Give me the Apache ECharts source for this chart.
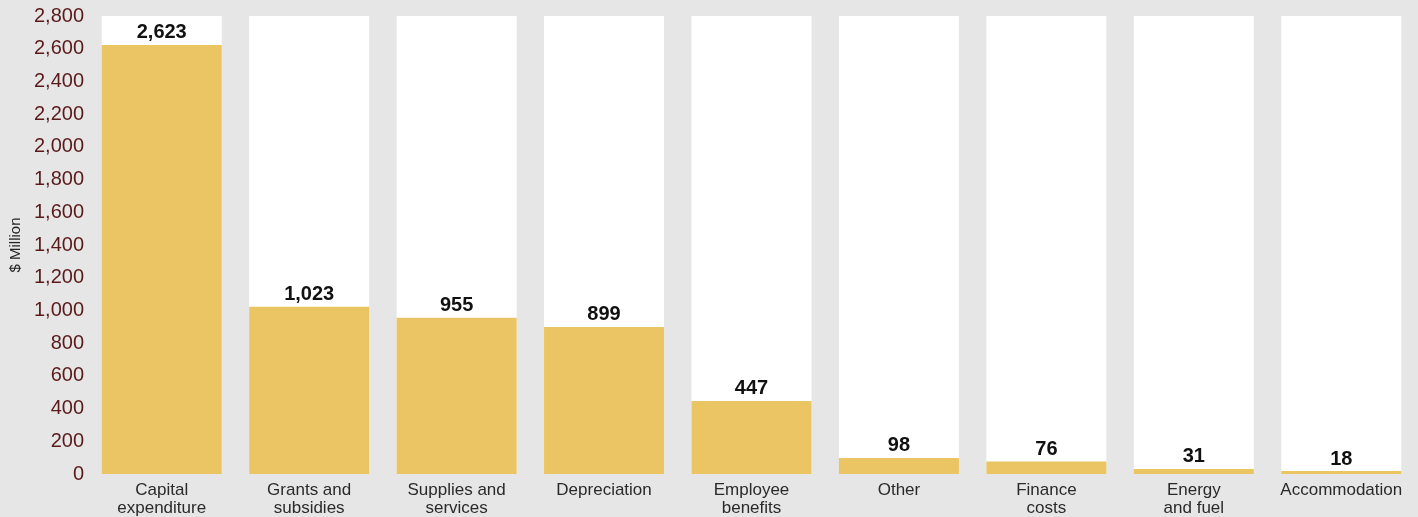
<!DOCTYPE html>
<html>
<head>
<meta charset="utf-8">
<script src="https://cdn.jsdelivr.net/npm/echarts@6/dist/echarts.min.js"></script>
<style>
html,body{margin:0;padding:0;background:#e6e6e6;}
#c{width:1418px;height:517px;}
</style>
</head>
<body>
<div id="c"></div>
<script>
const categories = ["Capital\nexpenditure","Grants and\nsubsidies","Supplies and\nservices","Depreciation","Employee\nbenefits","Other","Finance\ncosts","Energy\nand fuel","Accommodation"];
const values = [2623, 1023, 955, 899, 447, 98, 76, 31, 18];
const axisMax = 2800;

const chart = echarts.init(document.getElementById('c'), null, {renderer:'canvas'});
chart.setOption({
  backgroundColor:'#e6e6e6',
  animation:false,
  grid:{left:88, right:3, top:16, bottom:43, containLabel:false, outerBoundsMode:'none'},
  xAxis:{
    type:'category', data:categories,
    axisLine:{show:false}, axisTick:{show:false},
    axisLabel:{color:'#2a2a2a', fontSize:17, fontFamily:'Liberation Sans, Arial, sans-serif', lineHeight:18, margin:7, interval:0}
  },
  yAxis:{
    type:'value', min:0, max:axisMax, interval:200,
    name:'$ Million', nameLocation:'middle', nameGap:63, nameRotate:90,
    nameTextStyle:{color:'#222', fontSize:15, fontFamily:'Liberation Sans, Arial, sans-serif'},
    splitLine:{show:false}, axisLine:{show:false}, axisTick:{show:false},
    axisLabel:{color:'#5a1a1a', fontSize:20, fontFamily:'Liberation Sans, Arial, sans-serif', margin:4,
      formatter:v=>v.toLocaleString('en-US')}
  },
  series:[
    {type:'bar', data:categories.map(()=>axisMax), barCategoryGap:'18.6%', barGap:'-100%',
     itemStyle:{color:'#ffffff'}, silent:true, z:1},
    {type:'bar', data:values, barCategoryGap:'18.6%', barGap:'-100%',
     itemStyle:{color:'#ebc564'}, z:2,
     label:{show:true, position:'top', distance:2, color:'#111', fontWeight:'bold', fontSize:20,
       fontFamily:'Liberation Sans, Arial, sans-serif',
       formatter:p=>p.value.toLocaleString('en-US')}}
  ]
});
</script>
</body>
</html>
